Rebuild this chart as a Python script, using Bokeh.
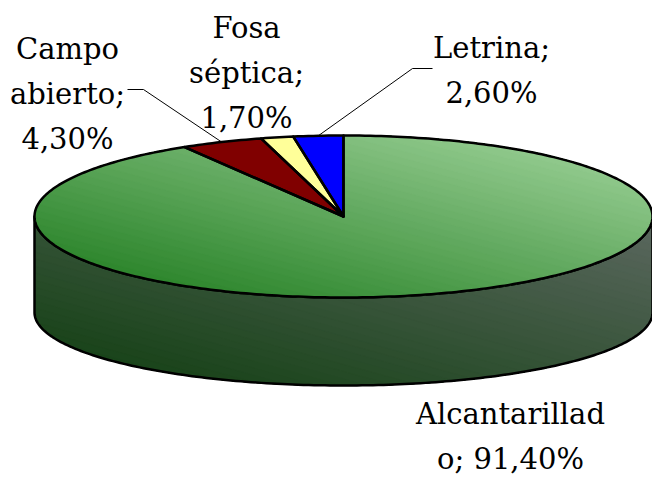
import numpy as np
from bokeh.plotting import figure
from bokeh.models import Range1d, Label
from bokeh.embed import file_html
from bokeh.resources import INLINE

# ---------------- data ----------------
categories = ["Alcantarillado", "Campo abierto", "Fosa séptica", "Letrina"]
shares = [91.4, 4.3, 1.7, 2.6]          # percent
slice_colors = ["#3c8f3c", "#800000", "#FFFF99", "#0000FF"]

# ---------------- layout / style ----------------
CX, CY, A, B = 343.0, 216.0, 309.0, 81.0      # top ellipse (pixel space)
CYB, BB = 312.0, 73.0                         # bottom ellipse
wrap_width = [13, 8, 8, 8]                    # characters per label line
label_anchor = [(510, 430), (67, 65), (246, 44), (491, 64)]  # centre x, first line bottom
line_gap = 45
leader_start = [None, [(127, 89), (143, 89)], None, [(432, 68), (412, 68)]]
FONT = "DejaVu Serif"

W, H = 652, 477
p = figure(width=W, height=H, output_backend="svg", toolbar_location=None,
           x_range=Range1d(0, W), y_range=Range1d(H, 0), min_border=0,
           x_axis_location=None, y_axis_location=None)
p.grid.visible = False
p.outline_line_color = None
p.background_fill_color = "white"
p.border_fill_color = "white"


def top_pt(th):
    r = np.radians(th)
    return CX + A * np.sin(r), CY - B * np.cos(r)


def bot_pt(th):
    r = np.radians(th)
    return CX + A * np.sin(r), CYB - BB * np.cos(r)


def arc(fn, s, e):
    n = max(3, int(abs(e - s)) + 2)
    th = np.linspace(s, e, n)
    xs, ys = fn(th)
    return list(xs), list(ys)


def clip(xs, ys, f):
    out_x, out_y = [], []
    n = len(xs)
    for i in range(n):
        x1, y1 = xs[i], ys[i]
        x2, y2 = xs[(i + 1) % n], ys[(i + 1) % n]
        f1, f2 = f(x1, y1), f(x2, y2)
        if f1 >= 0:
            out_x.append(x1); out_y.append(y1)
        if (f1 >= 0) != (f2 >= 0):
            r = f1 / (f1 - f2)
            out_x.append(x1 + r * (x2 - x1)); out_y.append(y1 + r * (y2 - y1))
    return out_x, out_y


def gradient(xs, ys, bbox, c0, c1, n=48):
    x0, x1, y0, y1 = bbox
    def t(x, y):
        return ((x - x0) / (x1 - x0) + (y1 - y) / (y1 - y0)) / 2.0
    gx, gy, gc = [], [], []
    for k in range(n):
        tk = k / n
        cx_, cy_ = clip(xs, ys, lambda x, y: t(x, y) - tk) if k else (xs, ys)
        if len(cx_) < 3:
            continue
        tm = (k + 0.5) / n
        col = tuple(int(round(c0[j] + (c1[j] - c0[j]) * tm)) for j in range(3))
        gx.append(cx_); gy.append(cy_)
        gc.append("#%02x%02x%02x" % tuple(max(0, min(255, v)) for v in col))
    p.patches(gx, gy, fill_color=gc, line_color=gc, line_width=0.6)


# slice angles (clockwise from 12 o'clock)
total = sum(shares)
starts, ends = [], []
acc = 0.0
for s in shares:
    starts.append(acc * 360 / total)
    acc += s
    ends.append(acc * 360 / total)

TOP_C0, TOP_C1 = (25, 120, 25), (165, 215, 160)
SIDE_C0, SIDE_C1 = (15, 62, 15), (92, 104, 96)

# ---- sides (front half of the cylinder) ----
side_polys = []
for i in range(len(shares)):
    s, e = max(starts[i], 90), min(ends[i], 270)
    if e <= s:
        continue
    tx, ty = arc(top_pt, s, e)
    bx, by = arc(bot_pt, e, s)
    xs, ys = tx + bx, ty + by
    side_polys.append((xs, ys))
    if i == 0:
        gradient(xs, ys, (CX - A, CX + A, CY, CYB + BB), SIDE_C0, SIDE_C1)
    else:
        p.patch(xs, ys, fill_color=slice_colors[i], line_color=None)
if side_polys:
    p.patches([sp[0] for sp in side_polys], [sp[1] for sp in side_polys],
              fill_color=None, line_color="black", line_width=2.5, line_join="round")

# ---- top faces ----
top_x, top_y = [], []
for i in range(len(shares)):
    ax, ay = arc(top_pt, starts[i], ends[i])
    xs, ys = [CX] + ax, [CY] + ay
    top_x.append(xs); top_y.append(ys)
    if i == 0:
        gradient(xs, ys, (CX - A, CX + A, CY - B, CY + B), TOP_C0, TOP_C1)
    else:
        p.patch(xs, ys, fill_color=slice_colors[i], line_color=None)
p.patches(top_x, top_y, fill_color=None, line_color="black", line_width=2.5, line_join="round")

# ---- leader lines ----
lx, ly = [], []
for i in range(len(shares)):
    if leader_start[i] is None:
        continue
    mx, my = top_pt((starts[i] + ends[i]) / 2)
    pts = leader_start[i] + [(float(mx), float(my))]
    lx.append([q[0] for q in pts]); ly.append([q[1] for q in pts])
p.multi_line(lx, ly, line_color="black", line_width=1)


# ---- labels ----
def wrap(text, width):
    lines, cur = [], ""
    for word in text.split(" "):
        cand = word if not cur else cur + " " + word
        if len(cand) <= width:
            cur = cand
            continue
        if cur:
            lines.append(cur)
        cur = word
        while len(cur) > width:
            lines.append(cur[:width]); cur = cur[width:]
    if cur:
        lines.append(cur)
    return lines


for i, name in enumerate(categories):
    label = f"{name}; {shares[i]:.2f}%".replace(".", ",")
    for j, line in enumerate(wrap(label, wrap_width[i])):
        p.add_layout(Label(x=label_anchor[i][0], y=label_anchor[i][1] + j * line_gap,
                           text=line, text_font=FONT, text_font_size="29px",
                           text_align="center", text_baseline="bottom",
                           text_color="black"))

open("out.html", "w").write(file_html(p, INLINE))
